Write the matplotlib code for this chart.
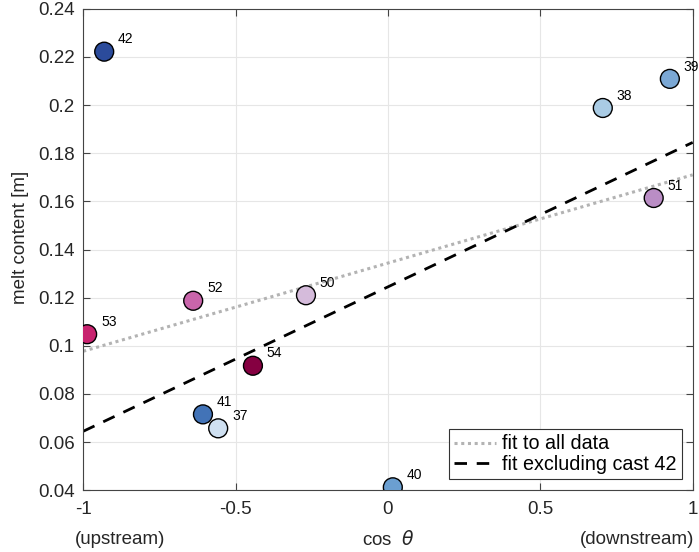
import numpy as np
import matplotlib
matplotlib.use("Agg")
import matplotlib.pyplot as plt

plt.rcParams['font.family'] = ['Liberation Sans', 'DejaVu Sans']

casts = ['42', '38', '39', '51', '50', '52', '53', '54', '41', '37', '40']
cos_theta = [-0.931, 0.705, 0.925, 0.872, -0.269, -0.639, -0.987, -0.443, -0.607, -0.557, 0.016]
melt = [0.2222, 0.1988, 0.2109, 0.1614, 0.1210, 0.1187, 0.1048, 0.0917, 0.0715, 0.0657, 0.0412]
colors = ['#2b4b9b', '#a9cbe4', '#7ba8d5', '#ba8dc5', '#d5bbdb', '#c965ab',
          '#c8236f', '#850041', '#4273b7', '#cfe0f1', '#6b9fd1']

x = np.array(cos_theta)
y = np.array(melt)

fig = plt.figure(figsize=(6.99, 5.52), dpi=100)
ax = fig.add_axes([0.119, 0.112, 0.872, 0.872])

xl = np.array([-1.0, 1.0])
p_all = np.polyfit(x, y, 1)
mask = np.array([c != '42' for c in casts])
p_ex = np.polyfit(x[mask], y[mask], 1)
ax.plot(xl, np.polyval(p_all, xl), ls=(0, (1, 1.2)), color='#b3b3b3', lw=2.2, label='fit to all data', zorder=2)
ax.plot(xl, np.polyval(p_ex, xl), ls=(0, (4.5, 3.5)), color='black', lw=2.0, label='fit excluding cast 42', zorder=2)

ax.scatter(x, y, s=185, c=colors, edgecolors='black', linewidths=1.0, zorder=3)
for xi, yi, c in zip(x, y, casts):
    ax.annotate(c, (xi, yi), xytext=(10, 6), textcoords='offset points', fontsize=10, zorder=4)

ax.set_xlim(-1, 1)
ax.set_ylim(0.04, 0.24)
ax.set_xticks([-1, -0.5, 0, 0.5, 1])
ax.set_xticklabels(['-1', '-0.5', '0', '0.5', '1'])
yt = np.arange(0.04, 0.2401, 0.02)
ax.set_yticks(yt)
ax.set_yticklabels(['0.04', '0.06', '0.08', '0.1', '0.12', '0.14', '0.16', '0.18', '0.2', '0.22', '0.24'])
ax.tick_params(direction='in', length=5, labelsize=13.5, color='#444444', width=0.8,
               labelcolor='#262626')
ax.tick_params(axis='x', pad=8)
ax.tick_params(axis='y', pad=6)
ax.tick_params(top=True, right=True)
ax.grid(True, color='#e6e6e6', lw=0.8)
ax.set_axisbelow(True)
for s in ax.spines.values():
    s.set_color('#444444')
    s.set_linewidth(0.8)

ax.set_ylabel('melt content [m]', fontsize=13.5, rotation=90, ha='center', va='center', color='#262626')
ax.yaxis.set_label_coords(-0.103, 0.526)
ax.set_xlabel(r'cos  $\theta$', fontsize=13.5, color='#262626')
ax.xaxis.set_label_coords(0.5, -0.102)
ax.xaxis.label.set_va('center')
ax.text(-0.013, -0.102, '(upstream)', transform=ax.transAxes, ha='left', va='center', fontsize=13.5, color='#262626')
ax.text(1.003, -0.102, '(downstream)', transform=ax.transAxes, ha='right', va='center', fontsize=13.5, color='#262626')

leg = ax.legend(loc='lower right', fontsize=14.2, frameon=True, fancybox=False,
                edgecolor='#333333', framealpha=1, handlelength=2.1, handletextpad=0.35,
                labelspacing=0.1, borderpad=0.25, borderaxespad=0.55)
leg.get_frame().set_linewidth(0.8)

fig.savefig('out.png', dpi=100)
